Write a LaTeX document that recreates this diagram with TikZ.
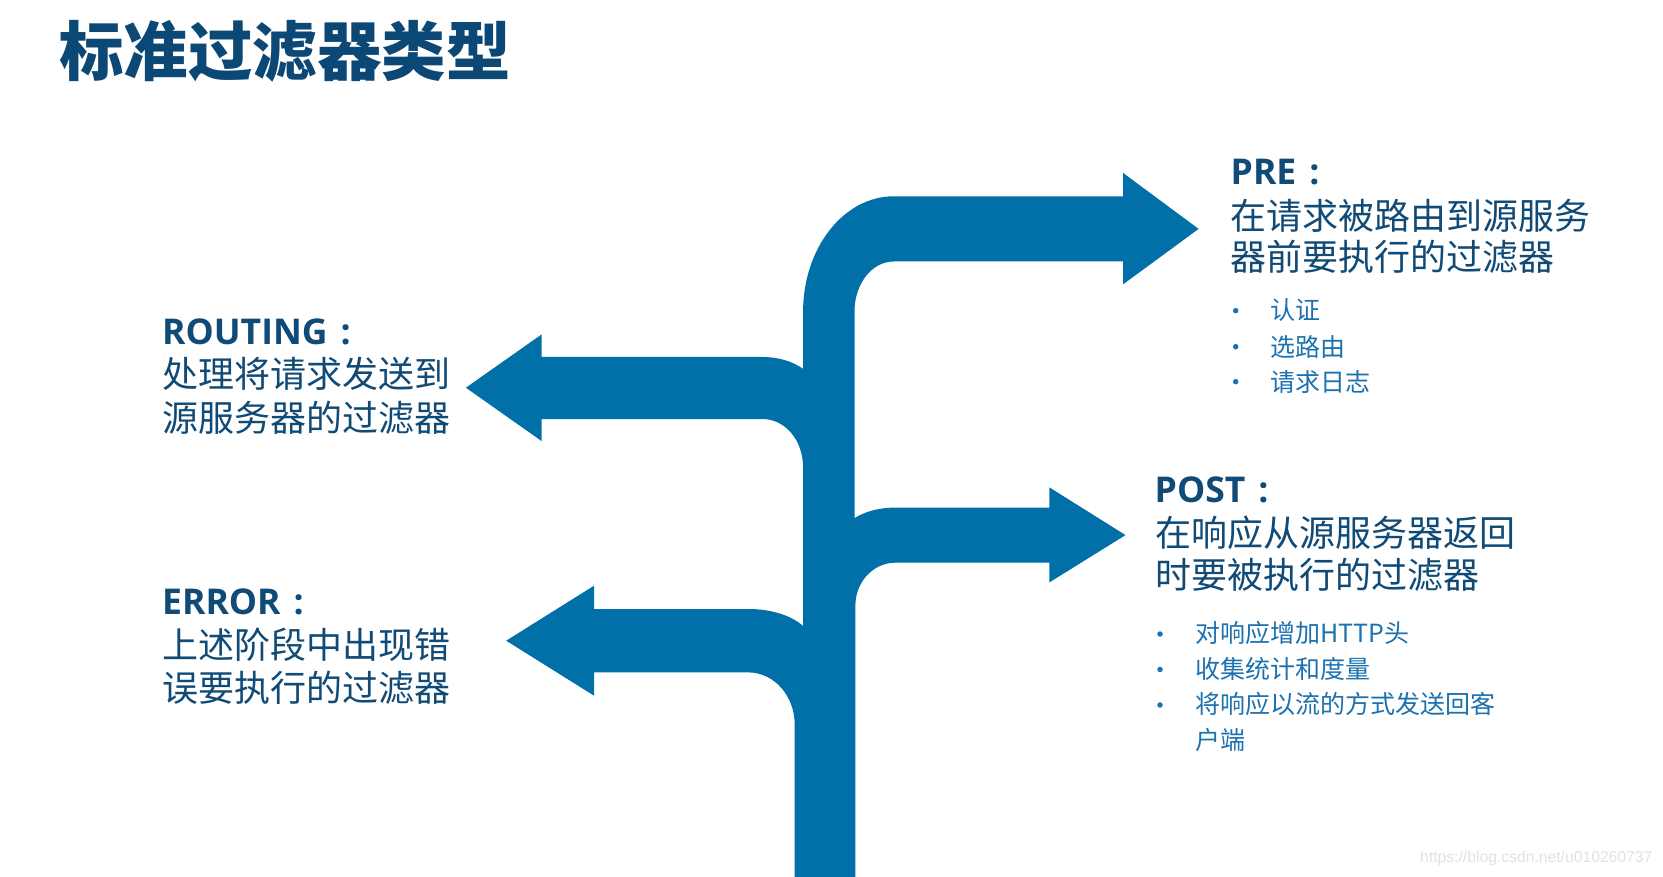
\documentclass[tikz,border=0pt]{standalone}
\usepackage{fontspec}
\setmainfont{Noto Sans CJK SC}
\newfontfamily\latinb{Open Sans}
\newfontfamily\wmfont{Liberation Sans}
\definecolor{arrowblue}{RGB}{2,112,168}
\definecolor{titleblue}{RGB}{12,72,118}
\definecolor{headblue}{RGB}{16,74,118}
\definecolor{bulletblue}{RGB}{28,114,176}
\definecolor{wmgray}{RGB}{226,226,226}
\newcommand{\headcolon}{\hspace{13pt}{\latinb :}}
\begin{document}
\begin{tikzpicture}[x=1pt,y=-1pt,
  titletext/.style={anchor=base west,inner sep=0pt,text=titleblue,font=\fontsize{64.5}{64.5}\selectfont\bfseries},
  bodytext/.style={anchor=base west,inner sep=0pt,text=headblue,font=\fontsize{36}{36}\selectfont},
  headtext/.style={anchor=base west,inner sep=0pt,text=headblue,font=\latinb\fontsize{35.5}{35.5}\selectfont\bfseries},
  itemtext/.style={anchor=base west,inner sep=0pt,text=bulletblue,font=\fontsize{25}{25}\selectfont},
  bulletdot/.style={circle,fill=bulletblue,inner sep=0pt,minimum size=5.5pt},
  wmtext/.style={anchor=base west,inner sep=0pt,text=wmgray,font=\wmfont\fontsize{15.7}{15.7}\selectfont}]
\useasboundingbox (0,0) rectangle (1663,877);
\fill[white] (0,0) rectangle (1663,877);

% branching arrow shape
\fill[arrowblue] (794.7,877) -- (794.7,724.7)
 .. controls (794.7,695.8) and (774,672.4) .. (748.4,672.4)
 -- (594.2,672.4) -- (594.2,695.8) -- (506.2,640.7) -- (594.2,585.6) -- (594.2,609) -- (748.4,609)
 .. controls (772,609) and (792,616) .. (803.1,626)
 -- (803.1,467.6)
 .. controls (803.1,440) and (785,419) .. (762.3,419)
 -- (541.5,419) -- (541.5,441) -- (465.9,387.7) -- (541.5,334.5) -- (541.5,357) -- (762.3,357)
 .. controls (778,357) and (792,361) .. (803.1,368.9)
 -- (803.1,311.5)
 .. controls (803.1,248) and (843.7,196.3) .. (893.7,196.3)
 -- (1123,196.3) -- (1123,172.9) -- (1198.6,228.9) -- (1123,284.4) -- (1123,261.5) -- (893.7,261.5)
 .. controls (871.7,261.5) and (854.5,284) .. (854.5,311.5)
 -- (854.5,518.1)
 .. controls (866,511) and (880,507.6) .. (895.2,507.6)
 -- (1049.4,507.6) -- (1049.4,487.4) -- (1125.5,535.1) -- (1049.4,582.4) -- (1049.4,562.7) -- (895.2,562.7)
 .. controls (873.2,562.7) and (855.4,582) .. (855.4,605.4)
 -- (855.4,877) -- cycle;

% title
\node[titletext] (title) at (59,75.5) {标准过滤器类型};

% PRE
\node[headtext] (preh) at (1230.5,184.3) {PRE\headcolon};
\node[bodytext] (pre1) at (1230,229.2) {在请求被路由到源服务};
\node[bodytext] (pre2) at (1230,270.8) {器前要执行的过滤器};
\node[bulletdot] (pred1) at (1235.7,310.7) {};
\node[bulletdot] (pred2) at (1235.7,346.7) {};
\node[bulletdot] (pred3) at (1235.7,381.7) {};
\node[itemtext] (prei1) at (1270,320) {认证};
\node[itemtext] (prei2) at (1270,356) {选路由};
\node[itemtext] (prei3) at (1270,391.5) {请求日志};

% ROUTING
\node[headtext] (routh) at (162,344.3) {ROUTING\headcolon};
\node[bodytext] (rout1) at (162,387.5) {处理将请求发送到};
\node[bodytext] (rout2) at (162,431.5) {源服务器的过滤器};

% ERROR
\node[headtext] (errh) at (162,614.3) {ERROR\headcolon};
\node[bodytext] (err1) at (162,658.5) {上述阶段中出现错};
\node[bodytext] (err2) at (162,701) {误要执行的过滤器};

% POST
\node[headtext] (posth) at (1154.5,502.7) {POST\headcolon};
\node[bodytext] (post1) at (1155.5,546.8) {在响应从源服务器返回};
\node[bodytext] (post2) at (1155.5,588) {时要被执行的过滤器};
\node[bulletdot] (postd1) at (1160,634) {};
\node[bulletdot] (postd2) at (1160,669.5) {};
\node[bulletdot] (postd3) at (1160,705) {};
\node[itemtext] (posti1) at (1195,642.5) {对响应增加HTTP头};
\node[itemtext] (posti2) at (1195,678) {收集统计和度量};
\node[itemtext] (posti3) at (1195,713.5) {将响应以流的方式发送回客};
\node[itemtext] (posti4) at (1195,749) {户端};

% watermark
\node[wmtext] (wm) at (1420,862.7) {https://blog.csdn.net/u010260737};
\end{tikzpicture}
\end{document}
